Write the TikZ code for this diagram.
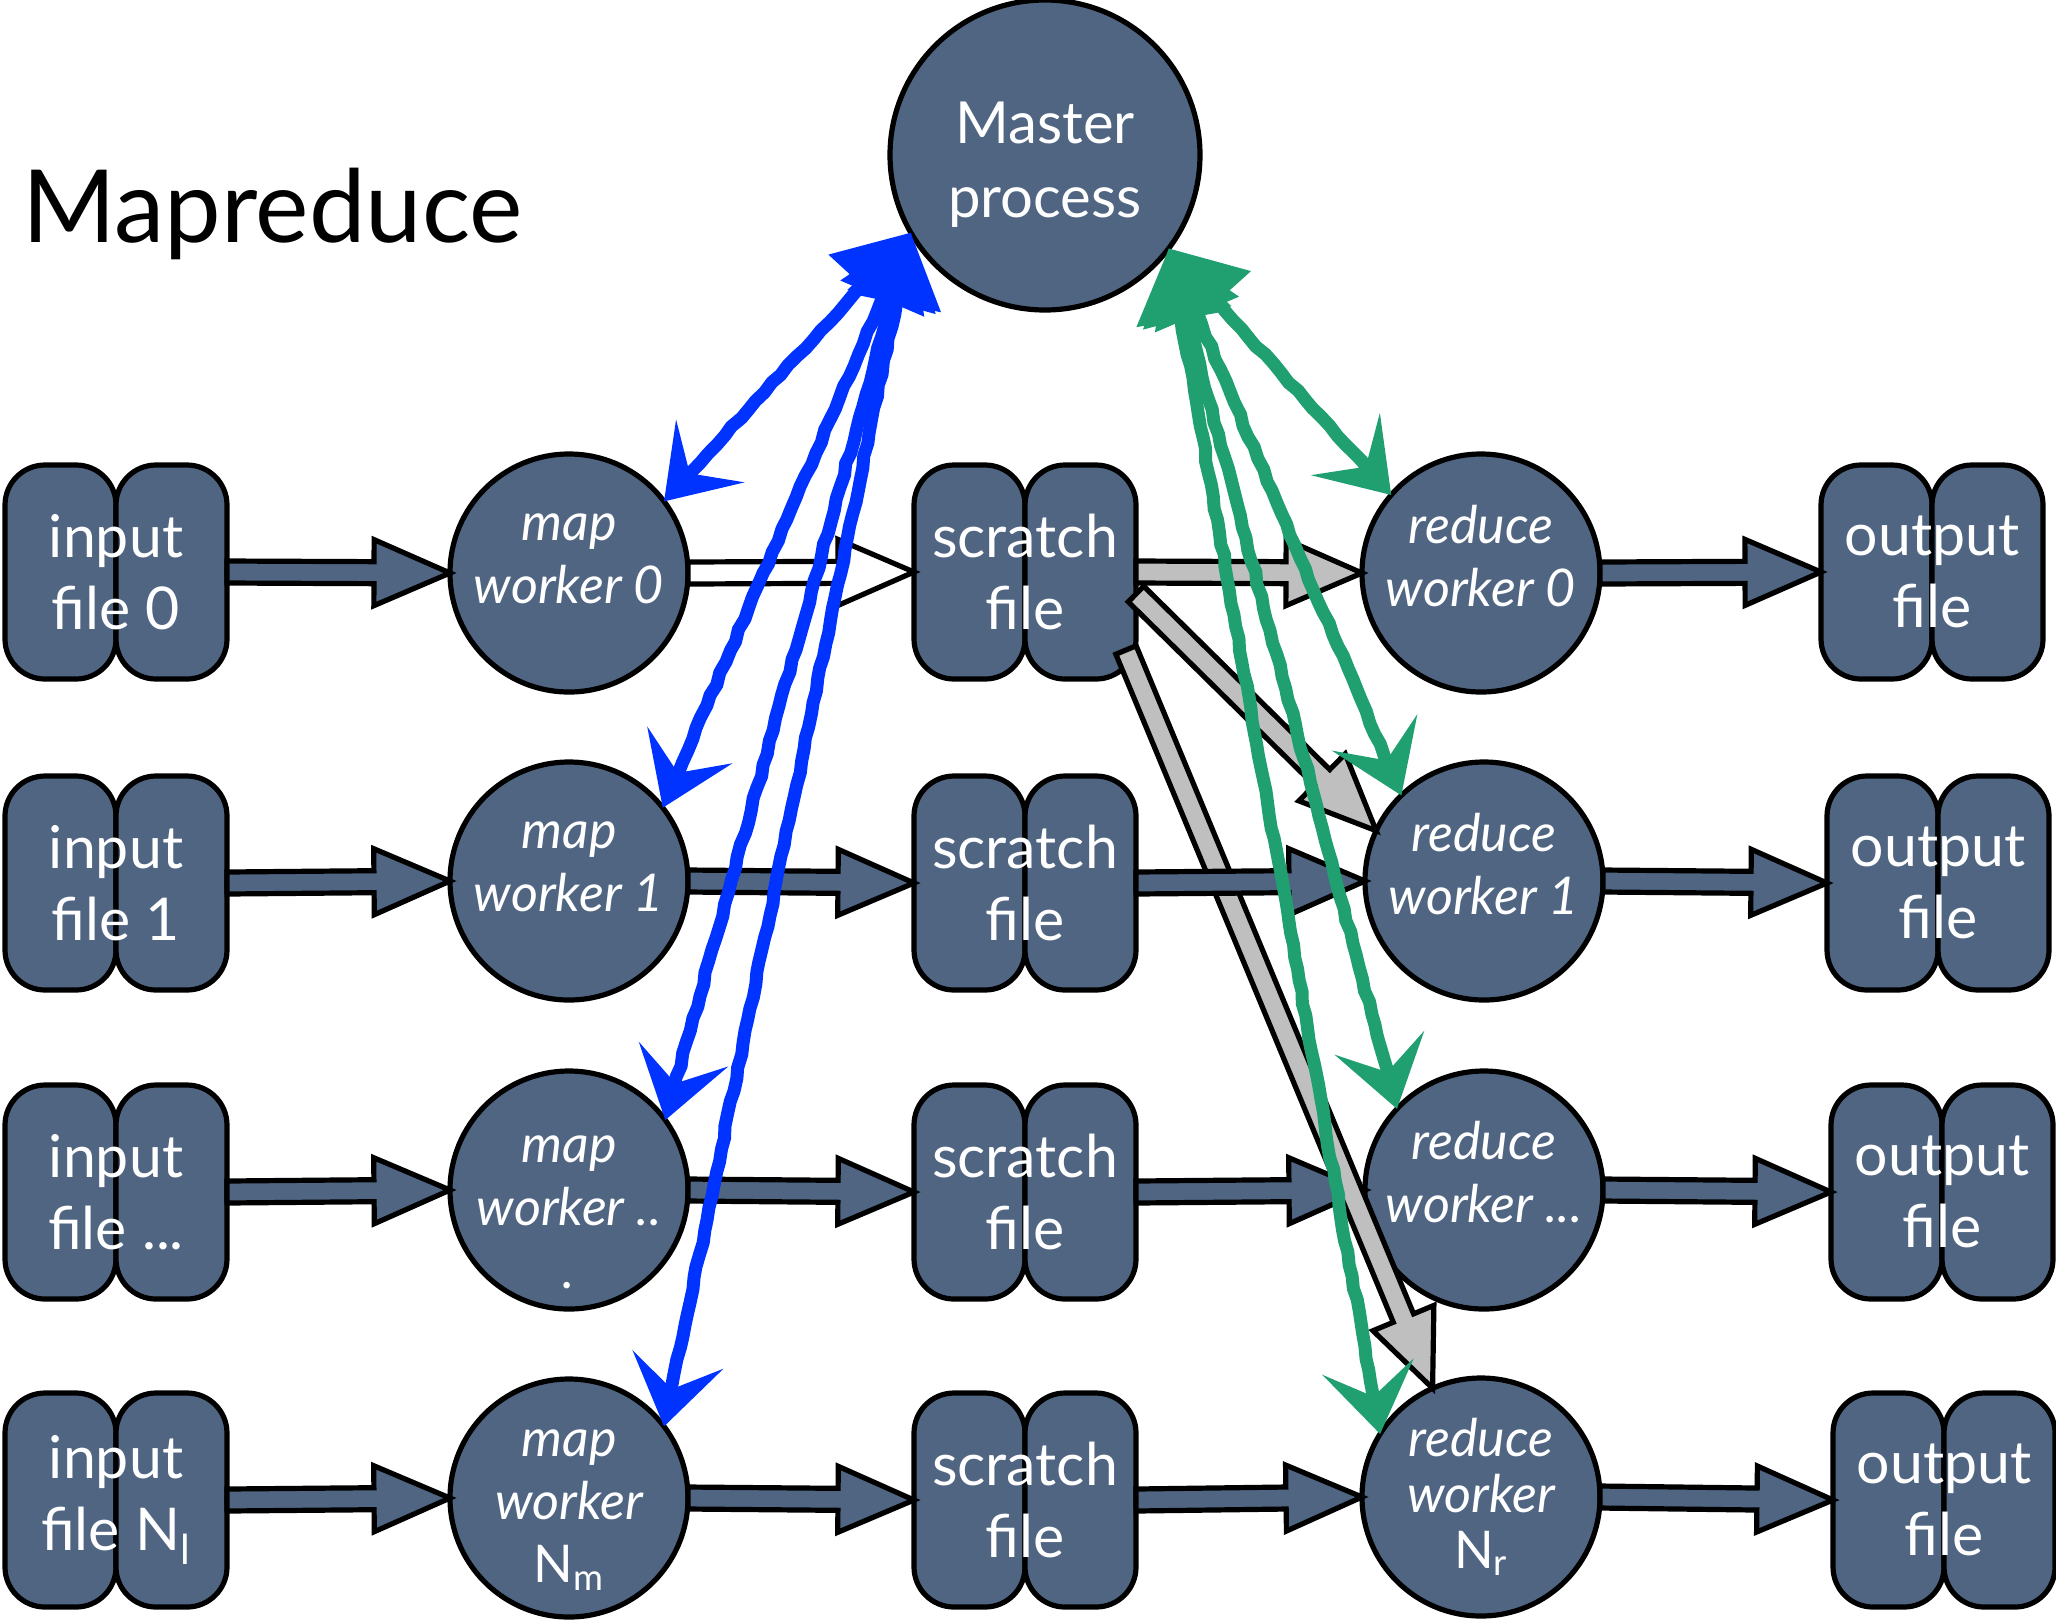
\documentclass[tikz,border=0pt]{standalone}
\usepackage{fontspec}
\setmainfont{Lato}
\usetikzlibrary{arrows.meta,calc,decorations.pathmorphing}
\definecolor{nodeslate}{RGB}{80,101,130}
\definecolor{crayonblue}{RGB}{0,51,255}
\definecolor{crayongreen}{RGB}{32,160,112}
\definecolor{arrowgray}{RGB}{191,191,191}

\tikzset{
  pill/.style={draw, line width=2.6pt, fill=nodeslate, rounded corners=20pt, minimum width=55.5pt, minimum height=107pt, inner sep=0pt, outer sep=0pt},
  filetext/.style={minimum width=111pt, minimum height=107pt, inner sep=0pt, outer sep=0pt, align=center, text=white, font=\fontsize{29.5}{36}\selectfont},
  worker/.style={circle, draw, line width=2.6pt, fill=nodeslate, minimum size=119pt, inner sep=0pt, outer sep=0pt},
  wtext/.style={align=center, inner sep=0pt, text=white, font=\itshape\fontsize{26}{31.5}\selectfont},
  master/.style={worker, minimum size=155pt},
  mtext/.style={align=center, inner sep=0pt, text=white, font=\fontsize{29}{37}\selectfont},
  fatline/.style={draw, line width=2.6pt, line join=miter},
  crayon/.style={line width=6.5pt, line cap=round, decorate, decoration={random steps, segment length=6pt, amplitude=0.6pt, pre length=12pt, post length=12pt}},
  bluecrayon/.style={crayon, draw=crayonblue, arrows={Triangle[length=36pt,width=44pt]-Stealth[length=34pt,width=46pt,inset=15pt]}},
  greencrayon/.style={crayon, draw=crayongreen, arrows={Triangle[length=36pt,width=44pt]-Stealth[length=34pt,width=46pt,inset=15pt]}}
}

\newcommand{\filebox}[3]{%
  \node[pill, anchor=east] (#1l) at (#2) {};
  \node[pill, anchor=west] (#1r) at (#2) {};
  \node[filetext] (#1) at (#2) {#3};
}

\newcommand{\workernode}[4]{%
  \node[worker] (#1) at (#2) {};
  \node[wtext] (#1t) at ([yshift=#3]#1.center) {#4};
}

\newcommand{\fatarrow}[3][nodeslate]{%
  \draw[fatline, fill=#1] let \p1=($(#3)-(#2)$), \n1={atan2(\y1,\x1)}, \n2={veclen(\x1,\y1)} in
    [shift={(#2)}, rotate=\n1] (0pt,-5.5pt) -- ({\n2-38pt},-5.5pt) -- ({\n2-38pt},-16.5pt) -- ({\n2+0pt},0pt)
    -- ({\n2-38pt},16.5pt) -- ({\n2-38pt},5.5pt) -- (0pt,5.5pt) -- cycle;
}

\begin{document}
\begin{tikzpicture}[x=0.5pt, y=-0.5pt]
\useasboundingbox (0,0) rectangle (2056,1619);
\pgfmathsetseed{11}

\node[anchor=base west, font=\fontsize{50.5}{60}\selectfont] (title) at (15,242) {Mapreduce};
\node[master] (master) at (1045,155) {};
\node[mtext] (mastert) at ([yshift=-5pt]master.center) {Master\\process};

\filebox{in0}{116,572}{input\\file 0}
\filebox{in1}{116,883}{input\\file 1}
\filebox{in2}{116,1192}{input\\file ...}
\filebox{in3}{116,1500}{input\\file N\textsubscript{l}}

\workernode{m0}{569,573}{7pt}{map\\worker 0}
\workernode{m1}{569,881}{7pt}{map\\worker 1}
\workernode{m2}{569,1190}{-11pt}{map\\worker ..\\.}
\workernode{m3}{569,1498}{-6pt}{map\\worker\\\upshape N\textsubscript{m}}

\filebox{s0}{1025,572}{scratch\\file}
\filebox{s1}{1025,883}{scratch\\file}
\filebox{s2}{1025,1192}{scratch\\file}
\filebox{s3}{1025,1500}{scratch\\file}

\workernode{r0}{1481,573}{8.5pt}{reduce\\worker 0}
\workernode{r1}{1484,881}{8.5pt}{reduce\\worker 1}
\workernode{r2}{1484,1190}{9pt}{reduce\\worker ...}
\workernode{r3}{1481,1497}{0pt}{reduce\\[-3.5pt]worker\\[-3.5pt]\upshape N\textsubscript{r}}

\filebox{out0}{1932,572}{output\\file}
\filebox{out1}{1938,883}{output\\file}
\filebox{out2}{1942,1192}{output\\file}
\filebox{out3}{1944,1500}{output\\file}

\foreach \i in {0,...,3}{\fatarrow{in\i.east}{m\i.west}}
\fatarrow[white]{m0.east}{s0.west}
\foreach \i in {1,2,3}{\fatarrow{m\i.east}{s\i.west}}
\fatarrow[arrowgray]{s0.east}{r0.west}
\fatarrow{s2.east}{r2.west}
\fatarrow{s3.east}{r3.west}
\coordinate (s0out) at ($(s0.east)+(0,22)$);
\coordinate (s0low) at ($(s0.south east)+(-10,-29)$);
\fatarrow[arrowgray]{s0out}{r1.155}
\fatarrow[arrowgray]{s0low}{r3.114}
\fatarrow{s1.east}{r1.west}
\foreach \i in {0,...,3}{\fatarrow{r\i.east}{out\i.west}}

\foreach \a/\w in {37/m0, 38/m1, 36/m2, 37/m3}
  \draw[bluecrayon] (master.210) -- (\w.\a);
\foreach \a/\w in {139/r0, 134/r1, 137/r2, 148/r3}
  \draw[greencrayon] (master.323) -- (\w.\a);
\end{tikzpicture}
\end{document}
